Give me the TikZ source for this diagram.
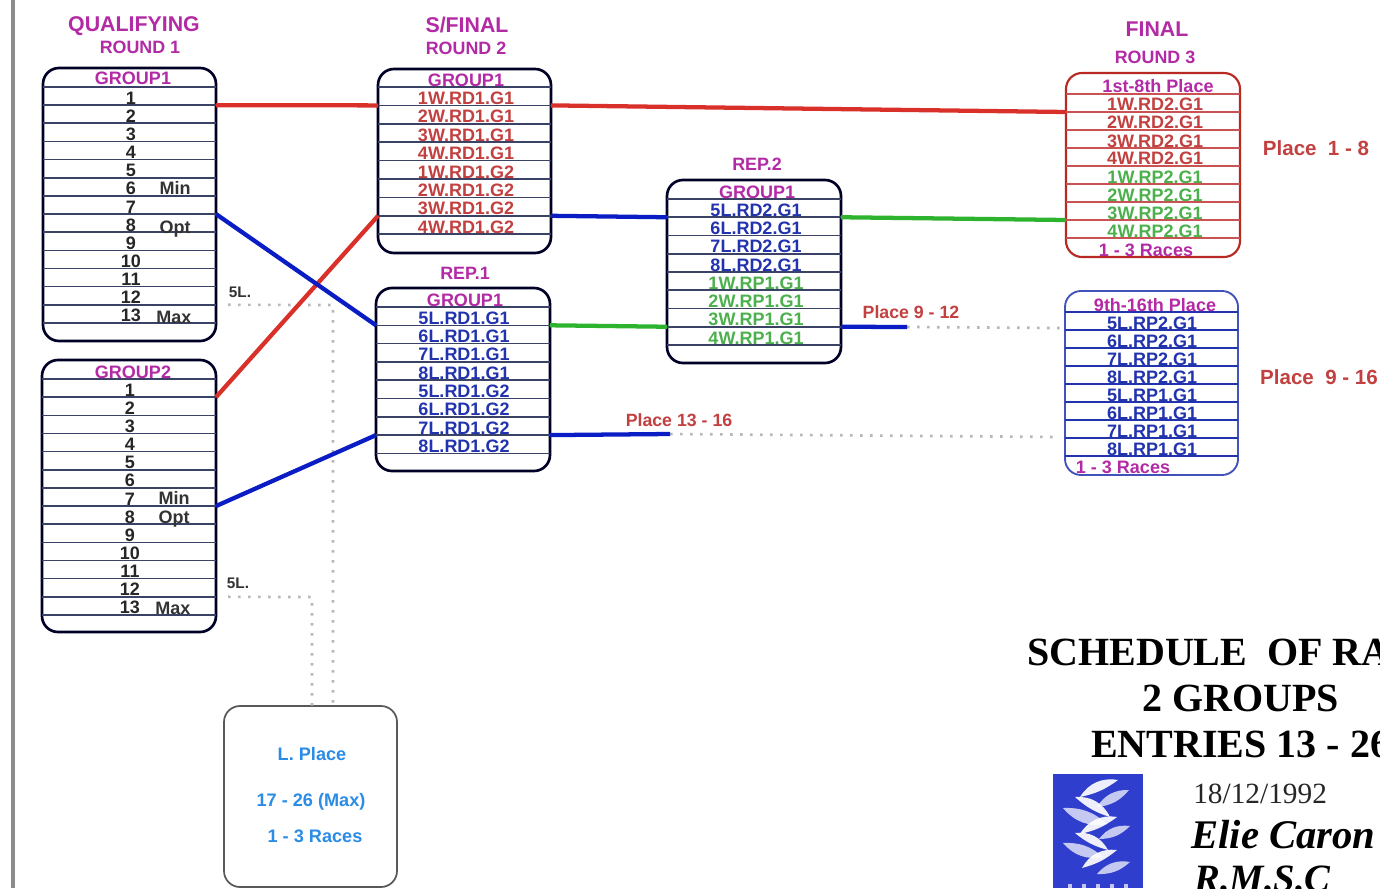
\documentclass[tikz,border=0pt]{standalone}
\usepackage{fontspec}
\setmainfont{Liberation Sans}
\newfontfamily\schedfont{Liberation Serif}
\definecolor{cred}{HTML}{D9302A}
\definecolor{cblue}{HTML}{0A1CC4}
\definecolor{cgreen}{HTML}{2EB32E}
\definecolor{tmag}{HTML}{B32AA5}
\definecolor{tred}{HTML}{C2403F}
\definecolor{tblue}{HTML}{2233AE}
\definecolor{tgreen}{HTML}{4CB04C}
\definecolor{tsky}{HTML}{2A8CE6}
\definecolor{rowdark}{HTML}{3A4266}
\definecolor{dotgray}{HTML}{B4B8BC}
\tikzset{
  boxbase/.style={draw, rectangle, rounded corners=12pt, fill=white, inner sep=0pt, outer sep=0pt},
  darkbox/.style={boxbase, draw=black!85!blue, line width=2pt},
  redbox/.style={boxbase, draw=cred!85!black, line width=1.6pt},
  bluebox/.style={boxbase, draw=tblue!85, line width=1.4pt},
  greybox/.style={boxbase, draw=black!65, line width=1.3pt},
  darkrow/.style={draw=rowdark, line width=1.2pt},
  redrow/.style={draw=tred!90, line width=1pt},
  bluerow/.style={draw=tblue, line width=1.2pt},
  lab/.style={inner sep=0pt, anchor=base, font=\bfseries\fontsize{13.5pt}{15pt}\selectfont},
  head/.style={inner sep=0pt, anchor=base, text=tmag, font=\bfseries\fontsize{16pt}{18pt}\selectfont},
  subhead/.style={inner sep=0pt, anchor=base, text=tmag, font=\bfseries\fontsize{13.4pt}{15pt}\selectfont},
  place/.style={inner sep=0pt, anchor=base, text=tred, font=\bfseries\fontsize{15.4pt}{17pt}\selectfont},
  smallplace/.style={inner sep=0pt, anchor=base, text=tred, font=\bfseries\fontsize{13.3pt}{15pt}\selectfont},
  fivel/.style={inner sep=0pt, anchor=base, text=black!80, font=\bfseries\fontsize{11.5pt}{13pt}\selectfont},
  skytext/.style={inner sep=0pt, anchor=base, text=tsky, font=\bfseries\fontsize{13.6pt}{15pt}\selectfont},
  title/.style={inner sep=0pt, anchor=base west, text=black, font=\schedfont\bfseries\fontsize{30pt}{34pt}\selectfont},
  conn/.style={line width=3.2pt, line cap=butt},
  dots/.style={draw=dotgray, line width=2pt, dash pattern=on 2pt off 5.5pt},
  leaf/.style={fill=white, draw=none, opacity=.92},
  paleleaf/.style={fill=white, draw=none, opacity=.72}
}
% name, x1, y1, x2, y2, first line y, line step, row style, box style
\newcommand{\rowbox}[9]{%
  \node[#9, minimum width={(#4-#2)*0.75pt}, minimum height={(#5-#3)*0.75pt}] (#1) at ({(#2+#4)/2},{(#3+#5)/2}) {};
  \foreach \i in {1,...,14}{%
    \pgfmathsetmacro{\yy}{#6+#7*(\i-1)}
    \pgfmathparse{\yy<#5-4 ? 1 : 0}
    \ifnum\pgfmathresult=1
      \coordinate (#1-l\i) at (#2,\yy);
      \coordinate (#1-r\i) at (#4,\yy);
      \draw[#8] (#1-l\i) -- (#1-r\i);
    \fi
  }%
}
\newcommand{\leafleft}[4]{\fill[leaf] (#1,#2) to[bend left=34] (#3,#4) to[bend left=12] (#1,#2);}
\newcommand{\leafright}[4]{\fill[leaf] (#1,#2) to[bend right=34] (#3,#4) to[bend right=12] (#1,#2);}
\newcommand{\leafpale}[4]{\fill[paleleaf] (#1,#2) to[bend right=30] (#3,#4) to[bend right=22] (#1,#2);}
\begin{document}
\begin{tikzpicture}[x=0.75pt,y=-0.75pt]
\clip (0,0) rectangle (1380,888);
\fill[white] (0,0) rectangle (1380,888);
\fill[black!45] (10.5,0) rectangle (14.5,888);

% Headings
\node[head] (hq) at (134,32) {QUALIFYING};
\node[subhead] (hq2) at (140,54) {ROUND 1};
\node[head] (hs) at (467,33) {S/FINAL};
\node[subhead] (hs2) at (466,55) {ROUND 2};
\node[head] (hf) at (1157,37) {FINAL};
\node[subhead] (hf2) at (1155,64) {ROUND 3};
\node[subhead] (hr2) at (757,171) {REP.2};
\node[subhead] (hr1) at (465,279) {REP.1};

% Boxes
\rowbox{qa}{43}{68}{216}{341}{87}{18.15}{darkrow}{darkbox}
\rowbox{qb}{42}{360}{216}{632}{379}{18.15}{darkrow}{darkbox}
\rowbox{sf}{378}{69}{551}{253}{87}{18.4}{darkrow}{darkbox}
\rowbox{ra}{376}{288}{550}{471}{307}{18.3}{darkrow}{darkbox}
\rowbox{rb}{667}{180}{841}{363}{199}{18.25}{darkrow}{darkbox}
\rowbox{fa}{1066}{73}{1240}{257}{94}{18}{redrow}{redbox}
\rowbox{fb}{1065}{291}{1238}{475}{312}{18}{bluerow}{bluebox}
\node[greybox, minimum width={173*0.75pt}, minimum height={181*0.75pt}] (lp) at (310.5,796.5) {};

% Box texts
\node[lab, text=tmag] (qa-g) at (133,85) {GROUP1};
\foreach \i/\t in {2/1,3/2,4/3,5/4,6/5,7/6,8/7,9/8,10/9,11/10,12/11,13/12,14/13}{
  \pgfmathsetmacro{\yy}{87+18.15*(\i-1)-1}
  \node[lab, text=black!85] (qa-t\i) at (131,\yy) {\t};
  \pgfmathsetmacro{\yz}{379+18.15*(\i-1)-1}
  \node[lab, text=black!85] (qb-t\i) at (130,\yz) {\t};
}
\node[lab, text=black!80] (qa-min) at (175,194) {Min};
\node[lab, text=black!80] (qa-opt) at (175,233) {Opt};
\node[lab, text=black!80] (qa-max) at (174,323) {Max};
\node[lab, text=tmag] (qb-g) at (133,378) {GROUP2};
\node[lab, text=black!80] (qb-min) at (174,504) {Min};
\node[lab, text=black!80] (qb-opt) at (174,523) {Opt};
\node[lab, text=black!80] (qb-max) at (173,614) {Max};

\node[lab, text=tmag] (sf-g) at (466,87) {GROUP1};
\foreach \i/\t in {2/1W.RD1.G1,3/2W.RD1.G1,4/3W.RD1.G1,5/4W.RD1.G1,6/1W.RD1.G2,7/2W.RD1.G2,8/3W.RD1.G2,9/4W.RD1.G2}{
  \pgfmathsetmacro{\yy}{87+18.4*(\i-1)-1}
  \node[lab, text=tred] (sf-t\i) at (466,\yy) {\t};
}
\node[lab, text=tmag] (ra-g) at (465,306) {GROUP1};
\foreach \i/\t in {2/5L.RD1.G1,3/6L.RD1.G1,4/7L.RD1.G1,5/8L.RD1.G1,6/5L.RD1.G2,7/6L.RD1.G2,8/7L.RD1.G2,9/8L.RD1.G2}{
  \pgfmathsetmacro{\yy}{307+18.3*(\i-1)-1}
  \node[lab, text=tblue] (ra-t\i) at (464,\yy) {\t};
}
\node[lab, text=tmag] (rb-g) at (757,198) {GROUP1};
\foreach \i/\t/\c in {2/5L.RD2.G1/tblue,3/6L.RD2.G1/tblue,4/7L.RD2.G1/tblue,5/8L.RD2.G1/tblue,6/1W.RP1.G1/tgreen,7/2W.RP1.G1/tgreen,8/3W.RP1.G1/tgreen,9/4W.RP1.G1/tgreen}{
  \pgfmathsetmacro{\yy}{199+18.25*(\i-1)-1}
  \node[lab, text=\c] (rb-t\i) at (756,\yy) {\t};
}
\node[lab, text=tmag] (fa-g) at (1158,93) {1st-8th Place};
\foreach \i/\t/\c in {2/1W.RD2.G1/tred,3/2W.RD2.G1/tred,4/3W.RD2.G1/tred,5/4W.RD2.G1/tred,6/1W.RP2.G1/tgreen,7/2W.RP2.G1/tgreen,8/3W.RP2.G1/tgreen,9/4W.RP2.G1/tgreen}{
  \pgfmathsetmacro{\yy}{94+18*(\i-1)-1}
  \node[lab, text=\c] (fa-t\i) at (1155,\yy) {\t};
}
\node[lab, text=tmag] (fa-r) at (1146,256) {1 - 3 Races};
\node[lab, text=tmag] (fb-g) at (1155,311) {9th-16th Place};
\foreach \i/\t in {2/5L.RP2.G1,3/6L.RP2.G1,4/7L.RP2.G1,5/8L.RP2.G1,6/5L.RP1.G1,7/6L.RP1.G1,8/7L.RP1.G1,9/8L.RP1.G1}{
  \pgfmathsetmacro{\yy}{312+18*(\i-1)-1}
  \node[lab, text=tblue] (fb-t\i) at (1152,\yy) {\t};
}
\node[lab, text=tmag] (fb-r) at (1123,473) {1 - 3 Races};

\node[skytext] (lp-a) at (312,760) {L. Place};
\node[skytext] (lp-b) at (311,806) {17 - 26 (Max)};
\node[skytext] (lp-c) at (315,842) {1 - 3 Races};

% Side labels
\node[place] (p18) at (1316,156) {Place\ \ 1 - 8};
\node[place] (p916) at (1319,384) {Place\ \ 9 - 16};
\node[smallplace] (p912) at (911,318) {Place 9 - 12};
\node[smallplace] (p1316) at (679,426) {Place 13 - 16};
\node[fivel] (fa5) at (240,297) {5L.};
\node[fivel] (fb5) at (238,588) {5L.};

% Free connector ends
\coordinate (c912) at (907,327);
\coordinate (c1316) at (670,434);
\coordinate (e912) at (1060,328);
\coordinate (e1316) at (1060,437);
\coordinate (dqa) at (333,305);
\coordinate (dqb) at (312,597);

% Dotted connectors
\draw[dots, shorten <=9pt] (qa-r13) -- (dqa) -- (dqa |- lp.north);
\draw[dots, shorten <=9pt] (qb-r13) -- (dqb) -- (dqb |- lp.north);
\draw[dots] (c912) -- (e912);
\draw[dots] (c1316) -- (e1316);

% Solid connectors
\draw[conn, cred] (qa-r2) -- (sf-l2);
\draw[conn, cred] (sf-r2) -- (fa-l2);
\draw[conn, cred] (qb-r2) -- (sf-l8);
\draw[conn, cblue] (qa-r8) -- (ra-l2);
\draw[conn, cblue] (qb-r8) -- (ra-l8);
\draw[conn, cblue] (sf-r8) -- (rb-l2);
\draw[conn, cgreen] (ra-r2) -- (rb-l8);
\draw[conn, cgreen] (rb-r2) -- (fa-l8);
\draw[conn, cblue] (rb-r8) -- (c912);
\draw[conn, cblue] (ra-r8) -- (c1316);

% Title block
\node[title] (t1) at (1027,665) {SCHEDULE\ \ OF RA};
\node[title] (t2) at (1142,711) {2 GROUPS};
\node[title] (t3) at (1091,757) {ENTRIES 13 - 26};
\node[inner sep=0pt, anchor=base west, text=black!85, font=\schedfont\fontsize{22pt}{24pt}\selectfont] (t4) at (1193,803) {18/12/1992};
\node[inner sep=0pt, anchor=base west, text=black, font=\schedfont\bfseries\itshape\fontsize{30.5pt}{33pt}\selectfont] (t5) at (1191,848) {Elie Caron};
\node[inner sep=0pt, anchor=base west, text=black, font=\schedfont\bfseries\itshape\fontsize{29pt}{32pt}\selectfont] (t6) at (1194,891) {R.M.S.C};

% Logo
\fill[cblue!85!white] (1053,774) rectangle (1143,888);
\leafright{1118}{780}{1080}{797}
\leafpale{1129}{790}{1097}{807}
\leafleft{1075}{797}{1110}{817}
\leafpale{1063}{808}{1107}{824}
\leafright{1117}{817}{1080}{834}
\leafpale{1130}{826}{1099}{839}
\leafleft{1075}{833}{1108}{850}
\leafpale{1063}{843}{1103}{857}
\leafright{1117}{850}{1082}{868}
\leafpale{1130}{862}{1097}{874}
\foreach \xx in {1068,1082,1096,1110,1124}{
  \fill[white, opacity=.7] (\xx,884) rectangle ++(4,4);
}
\end{tikzpicture}
\end{document}
